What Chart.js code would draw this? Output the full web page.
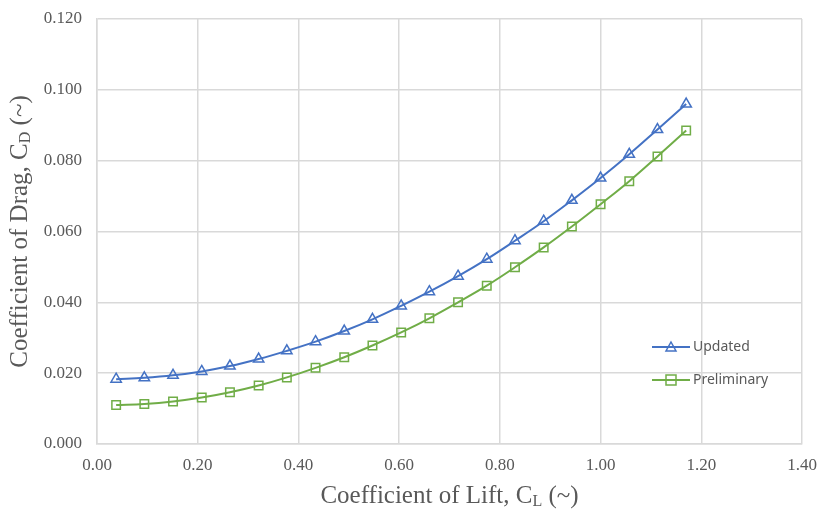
<!DOCTYPE html>
<html>
<head>
<meta charset="utf-8">
<script src="https://cdn.jsdelivr.net/npm/chart.js@4.4.1/dist/chart.umd.min.js"></script>
<style>
  html, body { margin: 0; padding: 0; background: #ffffff; }
  #wrap { width: 820px; height: 511px; }
</style>
</head>
<body>
<div id="wrap"><canvas id="dragPolar"></canvas></div>
<script>
// lift coefficient (x) for each test point
const liftCoeff = [0.038, 0.094, 0.151, 0.208, 0.264, 0.321, 0.377, 0.434, 0.491, 0.547,
                   0.604, 0.660, 0.717, 0.774, 0.830, 0.887, 0.943, 1.000, 1.057, 1.113, 1.170];
const dragUpdated = [0.0183, 0.0187, 0.0194, 0.0205, 0.0220, 0.0240, 0.0263, 0.0289, 0.0319, 0.0352,
                     0.0390, 0.0430, 0.0474, 0.0522, 0.0574, 0.0629, 0.0688, 0.0751, 0.0818, 0.0888, 0.0960];
const dragPrelim = [0.0110, 0.0113, 0.0120, 0.0131, 0.0146, 0.0165, 0.0188, 0.0215, 0.0245, 0.0278,
                    0.0315, 0.0355, 0.0400, 0.0447, 0.0499, 0.0555, 0.0614, 0.0677, 0.0742, 0.0812, 0.0885];
const seriesNames = ['Updated', 'Preliminary'];

const toPts = (ys) => ys.map((y, i) => ({ x: liftCoeff[i], y: y }));

const serif = '"Liberation Serif", "DejaVu Serif", serif';
const gridColor = '#d9d9d9';
const textColor = '#595959';

// axis titles with subscripts + legend inside the plot
const annotate = {
    id: 'annotate',
    afterDraw(chart) {
        const ctx = chart.ctx;
        const a = chart.chartArea;
        ctx.save();
        ctx.fillStyle = textColor;

        function subTitle(pre, sub, post) {
            ctx.font = '25px ' + serif;
            const w1 = ctx.measureText(pre).width;
            ctx.font = '16px ' + serif;
            const w2 = ctx.measureText(sub).width;
            ctx.font = '25px ' + serif;
            const w3 = ctx.measureText(post).width;
            const total = w1 + w2 + w3;
            let x = -total / 2;
            ctx.textBaseline = 'middle';
            ctx.textAlign = 'left';
            ctx.fillText(pre, x, 0);
            x += w1;
            ctx.font = '16px ' + serif;
            ctx.fillText(sub, x, 6);
            x += w2;
            ctx.font = '25px ' + serif;
            ctx.fillText(post, x, 0);
        }

        // x title
        ctx.save();
        ctx.translate((a.left + a.right) / 2, 496);
        subTitle('Coefficient of Lift, C', 'L', ' (~)');
        ctx.restore();

        // y title
        ctx.save();
        ctx.translate(20, (a.top + a.bottom) / 2);
        ctx.rotate(-Math.PI / 2);
        subTitle('Coefficient of Drag, C', 'D', ' (~)');
        ctx.restore();

        // legend
        const items = chart.data.datasets;
        ctx.font = '14px "Noto Sans", "Liberation Sans", sans-serif';
        ctx.textAlign = 'left';
        ctx.textBaseline = 'middle';
        items.forEach((ds, i) => {
            const ly = 347 + i * 33;
            const lx = 652;
            ctx.strokeStyle = ds.borderColor;
            ctx.lineWidth = 2;
            ctx.beginPath();
            ctx.moveTo(lx, ly);
            ctx.lineTo(lx + 38, ly);
            ctx.stroke();
            ctx.lineWidth = 1.5;
            if (ds.pointStyle === 'triangle') {
                ctx.beginPath();
                ctx.moveTo(lx + 19, ly - 5);
                ctx.lineTo(lx + 24, ly + 4);
                ctx.lineTo(lx + 14, ly + 4);
                ctx.closePath();
                ctx.stroke();
            } else {
                ctx.strokeRect(lx + 14, ly - 5, 10, 10);
            }
            ctx.fillStyle = textColor;
            ctx.fillText(ds.label, lx + 41, ly);
        });
        ctx.restore();
    }
};

new Chart(document.getElementById('dragPolar'), {
    type: 'line',
    data: {
        datasets: [
            {
                label: seriesNames[0],
                data: toPts(dragUpdated),
                borderColor: '#4472c4',
                backgroundColor: 'rgba(255,255,255,0)',
                borderWidth: 2,
                pointStyle: 'triangle',
                pointRadius: 6,
                pointBorderWidth: 1.5,
                pointBackgroundColor: 'rgba(255,255,255,0)',
                pointBorderColor: '#4472c4',
                tension: 0.4,
                fill: false
            },
            {
                label: seriesNames[1],
                data: toPts(dragPrelim),
                borderColor: '#70ad47',
                backgroundColor: 'rgba(255,255,255,0)',
                borderWidth: 2,
                pointStyle: 'rect',
                pointRadius: 6,
                pointBorderWidth: 1.5,
                pointBackgroundColor: 'rgba(255,255,255,0)',
                pointBorderColor: '#70ad47',
                tension: 0.4,
                fill: false
            }
        ]
    },
    options: {
        responsive: true,
        maintainAspectRatio: false,
        animation: false,
        layout: { padding: { top: 19, right: 18, left: 0, bottom: 0 } },
        plugins: {
            legend: { display: false },
            tooltip: { enabled: false }
        },
        scales: {
            x: {
                type: 'linear',
                min: 0,
                max: 1.4,
                afterFit: (s) => { s.height = 67; s.paddingLeft = 0; s.paddingRight = 0; },
                grid: { color: gridColor, lineWidth: 1.5, drawTicks: false },
                border: { color: gridColor, width: 1.5 },
                ticks: {
                    stepSize: 0.2,
                    padding: 11,
                    color: textColor,
                    font: { family: serif, size: 17 },
                    callback: (v) => v.toFixed(2)
                }
            },
            y: {
                min: 0,
                max: 0.12,
                afterFit: (s) => { s.width = 97; s.paddingTop = 0; s.paddingBottom = 0; },
                grid: { color: gridColor, lineWidth: 1.5, drawTicks: false },
                border: { color: gridColor, width: 1.5 },
                ticks: {
                    stepSize: 0.02,
                    padding: 15,
                    color: textColor,
                    font: { family: serif, size: 17 },
                    callback: (v) => v.toFixed(3)
                }
            }
        }
    },
    plugins: [annotate]
});
</script>
</body>
</html>
